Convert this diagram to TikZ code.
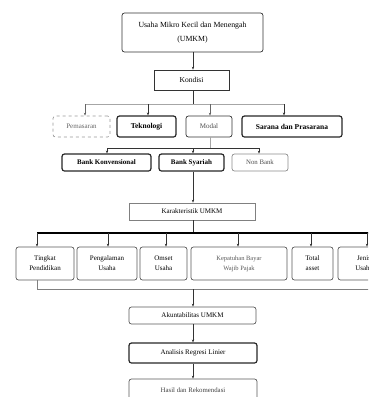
\documentclass[tikz,border=0pt]{standalone}
\usepackage{fontspec}
\setmainfont{Liberation Serif}
\usetikzlibrary{arrows.meta}
\begin{document}
\begin{tikzpicture}[x=1pt,y=-1pt,
  box/.style={draw=black!80,line width=0.7pt,inner sep=0pt,align=center,font=\fontsize{7.5}{10}\selectfont},
  rbox/.style={box,rounded corners=2.5pt},
  thickbox/.style={rbox,line width=1.2pt,draw=black!85},
  lightbox/.style={rbox,draw=black!45,text=black!70},
  dashbox/.style={rbox,dashed,draw=black!40,text=black!60},
  arr/.style={-{Stealth[length=3pt,width=2.4pt]},line width=0.7pt,draw=black!80},
  ln/.style={line width=0.7pt,draw=black!80},
  lln/.style={line width=0.6pt,draw=black!35},
  tln/.style={line width=1.2pt,draw=black}]
\useasboundingbox (0,0) rectangle (368,397);
\clip (0,0) rectangle (368,397);
% top
\node[rbox,minimum width=141pt,minimum height=39pt,font=\fontsize{7.8}{14}\selectfont] (umkm) at (192.5,32.5) {Usaha Mikro Kecil dan Menengah\\(UMKM)};
\node[box,minimum width=75pt,minimum height=20pt] (kond) at (191.5,80) {Kondisi};
\draw[arr] (umkm.south -| 193,0) -- (kond.north -| 193,0);
% row 1
\node[dashbox,minimum width=57pt,minimum height=21pt,font=\fontsize{7}{8}\selectfont] (pem) at (81.5,126.5) {Pemasaran};
\node[thickbox,minimum width=59pt,minimum height=21pt,font=\fontsize{7.5}{9}\selectfont\bfseries] (tek) at (146.5,126.5) {Teknologi};
\node[rbox,minimum width=46pt,minimum height=21pt,font=\fontsize{7}{8}\selectfont,text=black!70] (mod) at (209,126.5) {Modal};
\node[thickbox,minimum width=100pt,minimum height=21pt,font=\fontsize{7.5}{9}\selectfont\bfseries] (sar) at (292,126.5) {Sarana dan Prasarana};
\coordinate (k1) at (193,104);
\draw[ln] (kond.south -| k1) -- (k1);
\draw[lln] (85,104) coordinate (k1l) -- (284,104) coordinate (k1r);
\draw[arr,draw=black!60] (k1l) -- (pem.north -| k1l);
\draw[arr,line width=1pt] (148,104) -- (tek.north -| 148,0);
\draw[arr,draw=black!60] (210,104) -- (mod.north -| 210,0);
\draw[arr] (k1r) -- (sar.north -| k1r);
% row 2
\node[thickbox,minimum width=89pt,minimum height=17pt,font=\fontsize{7}{9}\selectfont\bfseries] (bk) at (106.5,162.5) {Bank Konvensional};
\node[thickbox,minimum width=65pt,minimum height=17pt,font=\fontsize{7}{9}\selectfont\bfseries] (bs) at (191.5,162.5) {Bank Syariah};
\node[lightbox,minimum width=56pt,minimum height=17pt,font=\fontsize{6.8}{8}\selectfont] (nb) at (260,162.5) {Non Bank};
\coordinate (m1) at (210,148);
\draw[lln] (mod.south -| m1) -- (m1);
\draw[ln] (107,148) coordinate (m1l) -- (259,148) coordinate (m1r);
\draw[arr] (m1l) -- (bk.north -| m1l);
\draw[arr] (193,148) -- (bs.north -| 193,0);
\draw[arr] (m1r) -- (nb.north -| m1r);
% karakteristik
\node[box,draw=black!50,minimum width=126pt,minimum height=17pt,font=\fontsize{7}{9}\selectfont] (kar) at (192,211.5) {Karakteristik UMKM};
\draw[arr] (bs.south -| 193,0) -- (kar.north -| 193,0);
% row 3
\tikzset{r3/.style={rbox,draw=black!65,minimum height=33pt,font=\fontsize{7}{10}\selectfont}}
\node[r3,minimum width=58pt] (tp) at (45,263.5) {Tingkat\\Pendidikan};
\node[r3,minimum width=60pt] (pu) at (107,263.5) {Pengalaman\\Usaha};
\node[r3,minimum width=47pt] (ou) at (163.5,263.5) {Omset\\Usaha};
\node[r3,minimum width=96pt,text=black!65,font=\fontsize{6.5}{10}\selectfont] (kbp) at (239,263.5) {Kepatuhan Bayar\\Wajib Pajak};
\node[r3,minimum width=41pt] (ta) at (312.5,263.5) {Total\\asset};
\node[r3,minimum width=52pt] (ju) at (364,263.5) {Jenis\\Usaha};
\coordinate (c1) at (193,233);
\draw[ln] (kar.south -| c1) -- (c1);
\draw[tln] (37,233) -- (370,233);
\draw[arr] (37,233) -- (tp.north -| 37,0);
\draw[arr] (108,233) -- (pu.north -| 108,0);
\draw[arr] (166,233) -- (ou.north -| 166,0);
\draw[arr] (238,233) -- (kbp.north -| 238,0);
\draw[arr] (311,233) -- (ta.north -| 311,0);
\draw[arr] (367,233) -- (ju.north -| 367,0);
% bracket
\draw[lln,draw=black!50] (tp.south -| 37,0) -- (37,289) -- (370,289);
% lower chain
\node[rbox,draw=black!65,minimum width=127pt,minimum height=17pt,font=\fontsize{7}{9}\selectfont] (ak) at (192.5,315.5) {Akuntabilitas UMKM};
\node[thickbox,minimum width=128pt,minimum height=20pt,font=\fontsize{7}{9}\selectfont] (ar) at (193,353) {Analisis Regresi Linier};
\node[rbox,draw=black!65,minimum width=128pt,minimum height=22pt,font=\fontsize{6.8}{8}\selectfont,text=black!75] (hr) at (193,390) {Hasil dan Rekomendasi};
\draw[arr] (193,289) -- (ak.north -| 193,0);
\draw[arr] (ak.south -| 193,0) -- (ar.north -| 193,0);
\draw[arr] (ar.south -| 193,0) -- (hr.north -| 193,0);
\end{tikzpicture}
\end{document}
